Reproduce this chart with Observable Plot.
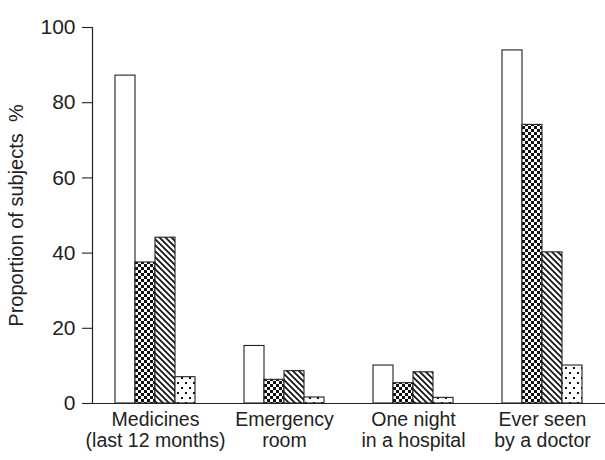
<!DOCTYPE html>
<html><head><meta charset="utf-8">
<script src="https://cdn.jsdelivr.net/npm/d3@7"></script>
<script src="https://cdn.jsdelivr.net/npm/@observablehq/plot@0.6"></script>
<style>body{margin:0;background:#fff}</style>
</head><body><div id="chart"></div>
<script>
const groups = ["Medicines\n(last 12 months)", "Emergency\nroom", "One night\nin a hospital", "Ever seen\nby a doctor"];
const seriesNames = ["Open", "Checkered", "Hatched", "Dotted"];
const openValues = [87.2, 15.3, 10.1, 93.9];
const checkerValues = [37.5, 6.3, 5.4, 74.1];
const hatchValues = [44.1, 8.6, 8.3, 40.2];
const dotValues = [7.0, 1.6, 1.5, 10.1];
const yTicks = [0, 20, 40, 60, 80, 100];
const yLabel = "Proportion of subjects  %";

const seriesValues = [openValues, checkerValues, hatchValues, dotValues];
const fills = ["white", "url(#pat-checker)", "url(#pat-hatch)", "url(#pat-dots)"];
const data = seriesNames.flatMap((s, i) => groups.map((g, j) => ({group: g, series: s, index: i, value: seriesValues[i][j]})));

const ink = "#222";
const barMarks = seriesNames.map((s, i) => Plot.barY(data.filter(d => d.index === i), {
  x: "group", y: "value", fill: fills[i], stroke: ink, strokeWidth: 1.1,
  insetLeft: i * 20, insetRight: (3 - i) * 20
}));

const chart = Plot.plot({
  width: 605, height: 460,
  marginTop: 27, marginBottom: 57, marginLeft: 92, marginRight: 0,
  style: {fontFamily: "'Liberation Sans', Arial, sans-serif", color: ink, background: "white"},
  x: {domain: groups, paddingInner: 0.38, paddingOuter: 0.175},
  y: {domain: [0, 100]},
  marks: [
    ...barMarks,
    Plot.frame({anchor: "left", stroke: ink, strokeWidth: 1.2}),
    Plot.ruleY([0], {stroke: ink, strokeWidth: 1.2}),
    Plot.axisY({ticks: yTicks, tickSize: 10, tickPadding: 7, fontSize: 21, strokeWidth: 1.1, label: null}),
    Plot.axisY({ticks: [], fontSize: 20, label: yLabel, labelAnchor: "center", labelOffset: 84, labelArrow: "none"}),
    Plot.axisX({tickSize: 0, tickPadding: 8, fontSize: 19.5, label: null, lineHeight: 1.07})
  ]
});
document.getElementById("chart").appendChild(chart);

const defs = d3.select(chart).insert("defs", ":first-child");
const pc = defs.append("pattern").attr("id", "pat-checker").attr("patternUnits", "userSpaceOnUse").attr("width", 6).attr("height", 6);
pc.append("rect").attr("width", 6).attr("height", 6).attr("fill", "white");
pc.append("rect").attr("x", 0).attr("y", 0).attr("width", 3).attr("height", 3).attr("fill", "#111");
pc.append("rect").attr("x", 3).attr("y", 3).attr("width", 3).attr("height", 3).attr("fill", "#111");
const ph = defs.append("pattern").attr("id", "pat-hatch").attr("patternUnits", "userSpaceOnUse").attr("width", 6).attr("height", 6);
ph.append("rect").attr("width", 6).attr("height", 6).attr("fill", "white");
ph.append("path").attr("d", "M-1,-1L7,7M-1,5L1,7M5,-1L7,1").attr("stroke", "#111").attr("stroke-width", 1.7);
const pd = defs.append("pattern").attr("id", "pat-dots").attr("patternUnits", "userSpaceOnUse").attr("width", 8).attr("height", 10);
pd.append("rect").attr("width", 8).attr("height", 10).attr("fill", "white");
pd.append("rect").attr("x", 1).attr("y", 2).attr("width", 2).attr("height", 2).attr("fill", "#111");
pd.append("rect").attr("x", 5).attr("y", 7).attr("width", 2).attr("height", 2).attr("fill", "#111");
</script>
</body></html>
